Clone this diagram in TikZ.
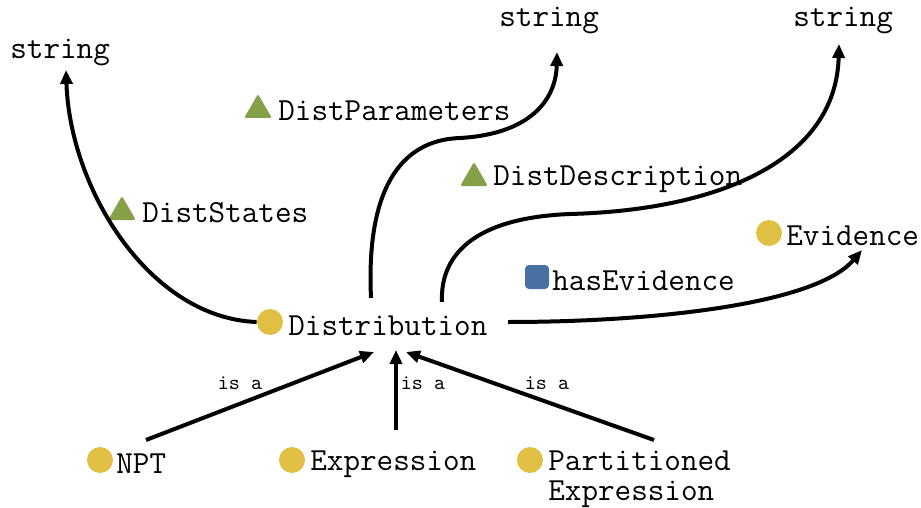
\documentclass[tikz,border=0pt]{standalone}
\usepackage{fontspec}
\usetikzlibrary{shapes.geometric,arrows.meta}
\definecolor{cyel}{RGB}{224,192,66}
\definecolor{cgrn}{RGB}{134,160,72}
\definecolor{cblu}{RGB}{72,112,160}
\tikzset{
  lbl/.style={anchor=west,inner sep=0pt,font=\ttfamily\fontsize{16.1}{15}\selectfont},
  isa/.style={inner sep=0pt,font=\ttfamily\fontsize{10.5}{11}\selectfont},
  cls/.style={circle,fill=cyel,inner sep=0pt,minimum size=13pt},
  prop/.style={regular polygon,regular polygon sides=3,fill=cgrn,inner sep=0pt,minimum size=16pt,rounded corners=0.8pt},
  oprop/.style={rectangle,fill=cblu,inner sep=0pt,minimum size=12pt,rounded corners=2pt},
  conn/.style={line width=2pt,-{Triangle[length=7pt,width=6pt]}},
}
\begin{document}
\begin{tikzpicture}[x=0.5pt,y=-0.5pt]
\useasboundingbox (0,0) rectangle (921,508);
% strings
\node[lbl] (strL) at (10,53) {string};
\node[lbl] (strM) at (499,21) {string};
\node[lbl] (strR) at (793,21) {string};
% properties
\node[prop] (tParam) at (258,110) {};
\node[lbl] (param) at (278,111) {DistParameters};
\node[prop] (tStates) at (122,212) {};
\node[lbl] (states) at (142,213) {DistStates};
\node[prop] (tDesc) at (474,178) {};
\node[lbl] (desc) at (493,179) {DistDescription};
\node[oprop] (sEv) at (537,277) {};
\node[lbl] (hasEv) at (552,281) {hasEvidence};
% classes
\node[cls] (cEv) at (769,233) {};
\node[lbl] (ev) at (786,236) {Evidence};
\node[cls] (cDist) at (270,322) {};
\node[lbl] (dist) at (288,326) {Distribution};
\node[cls] (cNpt) at (100,460) {};
\node[lbl] (npt) at (116,464) {NPT};
\node[cls] (cExpr) at (292,460) {};
\node[lbl] (expr) at (310,464) {Expression};
\node[cls] (cPart) at (530,460) {};
\node[lbl,align=left] (part) at (548,479) {Partitioned\\Expression};
% is a labels
\node[isa] (isa1) at (240,383) {is a};
\node[isa] (isa2) at (423,383) {is a};
\node[isa] (isa3) at (547,383) {is a};
% connectors
\coordinate (pS) at (371,298);
\coordinate (pD) at (442,302);
\coordinate (pE) at (508,322);
\draw[conn] (cDist.west) .. controls (150,318) and (70,190) .. (66,70);
\draw[conn] (pS) .. controls (366,190) and (400,140) .. (460,138) .. controls (530,134) and (556,100) .. (557,52);
\draw[conn] (pD) .. controls (440,258) and (470,218) .. (570,214) .. controls (720,210) and (836,160) .. (839,44);
\draw[conn] (pE) .. controls (650,322) and (815,305) .. (862,250);
\coordinate (a1) at (146,440);
\coordinate (a2) at (396,430);
\coordinate (a3) at (654,440);
\coordinate (t1) at (374,352);
\coordinate (t2) at (396,350);
\coordinate (t3) at (406,352);
\draw[conn] (a1) -- (t1);
\draw[conn] (a2) -- (t2);
\draw[conn] (a3) -- (t3);
\end{tikzpicture}
\end{document}
